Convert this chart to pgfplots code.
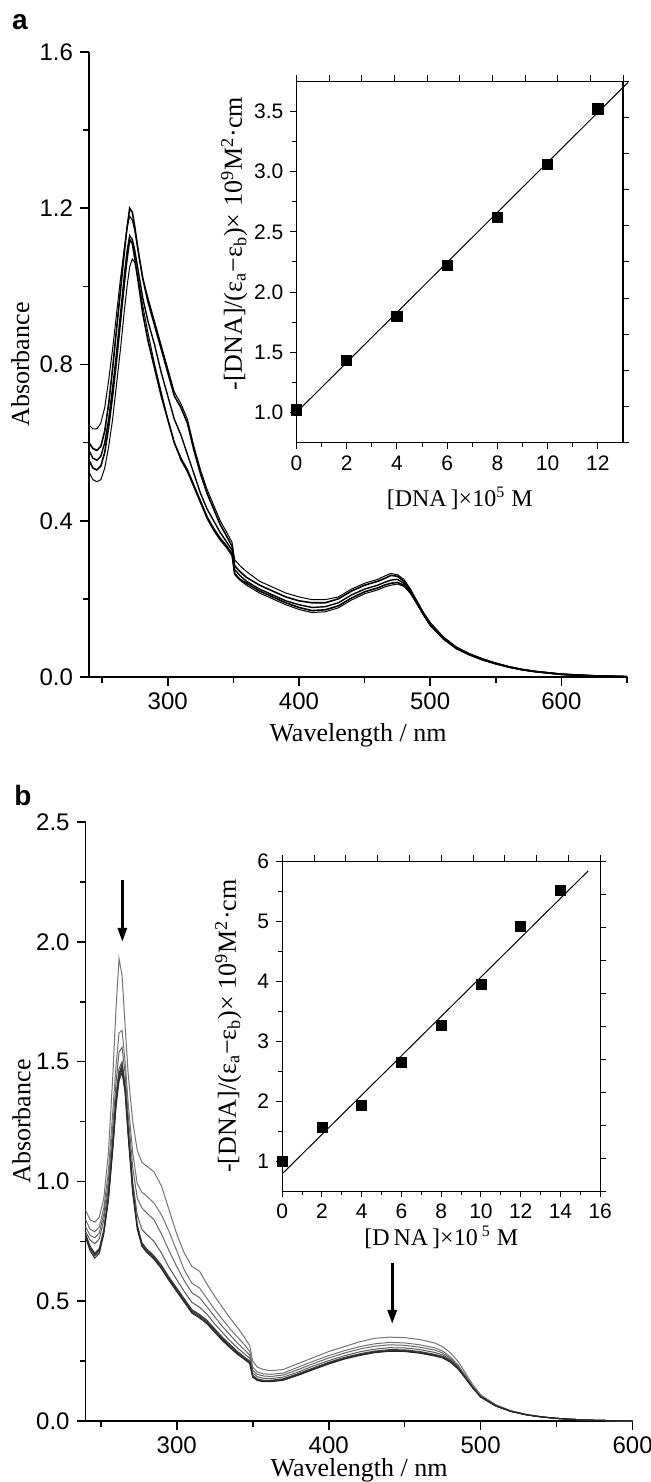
\documentclass[border=0pt]{standalone}
\usepackage{fontspec}
\setmainfont{Liberation Serif}
\newfontfamily\arial{Liberation Sans}
\usepackage{pgfplots}
\usepackage{pgfplotstable}
\pgfplotsset{compat=1.18}
\usetikzlibrary{arrows.meta}

\pgfplotstableread{
x c1 c2 c3 c4 c5
240 0.600 0.645 0.580 0.555 0.525
243 0.585 0.635 0.560 0.535 0.505
246 0.580 0.635 0.555 0.530 0.500
249 0.590 0.650 0.565 0.540 0.505
252 0.630 0.690 0.600 0.575 0.535
255 0.700 0.760 0.660 0.640 0.590
258 0.790 0.840 0.740 0.720 0.660
261 0.890 0.930 0.830 0.810 0.750
264 0.990 1.020 0.930 0.910 0.840
267 1.090 1.100 1.030 1.010 0.940
269 1.150 1.150 1.090 1.070 1.000
271 1.200 1.180 1.130 1.120 1.050
273 1.190 1.170 1.120 1.110 1.070
275 1.150 1.140 1.090 1.070 1.060
278 1.080 1.080 1.030 1.000 1.010
281 1.020 1.020 0.970 0.930 0.950
285 0.960 0.970 0.910 0.860 0.880
290 0.900 0.910 0.850 0.790 0.800
295 0.840 0.850 0.780 0.720 0.730
300 0.780 0.790 0.720 0.660 0.660
305 0.720 0.730 0.660 0.600 0.600
310 0.690 0.700 0.620 0.560 0.555
315 0.650 0.660 0.570 0.530 0.525
320 0.580 0.590 0.520 0.490 0.485
325 0.520 0.530 0.470 0.450 0.445
330 0.470 0.480 0.430 0.410 0.405
335 0.430 0.440 0.400 0.380 0.375
340 0.390 0.400 0.370 0.355 0.350
345 0.360 0.370 0.345 0.335 0.330
349 0.335 0.345 0.325 0.315 0.310
351 0.285 0.300 0.275 0.265 0.262
355 0.270 0.285 0.260 0.250 0.248
360 0.255 0.270 0.245 0.240 0.235
370 0.235 0.245 0.225 0.220 0.215
380 0.220 0.230 0.210 0.205 0.200
390 0.205 0.215 0.195 0.190 0.185
400 0.195 0.205 0.185 0.178 0.173
410 0.190 0.198 0.178 0.170 0.165
420 0.190 0.198 0.180 0.172 0.167
430 0.200 0.205 0.190 0.182 0.177
440 0.220 0.225 0.210 0.202 0.197
450 0.235 0.240 0.225 0.218 0.213
460 0.245 0.250 0.235 0.228 0.223
465 0.252 0.258 0.242 0.235 0.230
470 0.260 0.265 0.248 0.240 0.235
475 0.258 0.262 0.250 0.242 0.238
480 0.245 0.250 0.240 0.235 0.232
485 0.220 0.225 0.220 0.215 0.214
490 0.190 0.195 0.190 0.188 0.187
495 0.160 0.165 0.160 0.160 0.158
500 0.135 0.140 0.135 0.133 0.132
510 0.100 0.103 0.100 0.098 0.097
520 0.075 0.077 0.075 0.073 0.072
530 0.058 0.060 0.058 0.057 0.056
540 0.045 0.047 0.045 0.044 0.043
550 0.035 0.036 0.035 0.034 0.033
560 0.026 0.027 0.026 0.025 0.025
570 0.019 0.020 0.019 0.019 0.018
580 0.014 0.015 0.014 0.014 0.013
600 0.007 0.008 0.007 0.007 0.006
625 0.003 0.003 0.003 0.003 0.002
650 0.001 0.001 0.001 0.001 0.001
}\tabA

\pgfplotstableread{
x b1 b2 b3 b4 b5 b6 b7 b8
240 0.88 0.84 0.81 0.79 0.78 0.775 0.77 0.765
243 0.84 0.80 0.775 0.755 0.73 0.725 0.72 0.71
246 0.83 0.79 0.765 0.74 0.70 0.695 0.69 0.68
249 0.85 0.81 0.785 0.76 0.72 0.715 0.71 0.70
252 0.93 0.89 0.865 0.84 0.80 0.795 0.79 0.78
255 1.12 1.04 1.00 0.97 0.94 0.935 0.93 0.92
258 1.45 1.30 1.24 1.19 1.17 1.16 1.15 1.14
260 1.72 1.48 1.41 1.36 1.34 1.33 1.32 1.31
262 1.93 1.62 1.54 1.47 1.45 1.44 1.43 1.42
264 1.86 1.63 1.56 1.50 1.49 1.48 1.47 1.455
266 1.65 1.50 1.45 1.40 1.40 1.39 1.38 1.37
268 1.45 1.33 1.28 1.23 1.22 1.21 1.20 1.19
271 1.25 1.12 1.06 1.00 0.98 0.97 0.96 0.95
274 1.13 0.99 0.93 0.86 0.82 0.815 0.81 0.80
277 1.08 0.955 0.89 0.80 0.745 0.74 0.735 0.73
280 1.065 0.94 0.87 0.78 0.72 0.715 0.71 0.705
285 1.04 0.91 0.84 0.75 0.69 0.685 0.68 0.675
290 0.98 0.86 0.78 0.70 0.65 0.645 0.64 0.635
295 0.88 0.79 0.71 0.64 0.60 0.595 0.59 0.585
300 0.78 0.71 0.645 0.59 0.555 0.55 0.545 0.54
305 0.70 0.63 0.585 0.54 0.51 0.505 0.50 0.495
310 0.645 0.575 0.535 0.495 0.465 0.46 0.455 0.45
315 0.625 0.555 0.515 0.475 0.445 0.44 0.435 0.43
320 0.57 0.51 0.475 0.445 0.42 0.415 0.41 0.405
325 0.52 0.465 0.435 0.405 0.385 0.38 0.375 0.37
330 0.475 0.425 0.395 0.37 0.35 0.345 0.34 0.336
335 0.43 0.385 0.36 0.335 0.32 0.315 0.31 0.306
340 0.39 0.35 0.325 0.305 0.29 0.286 0.282 0.278
345 0.345 0.315 0.295 0.278 0.265 0.261 0.258 0.255
348 0.315 0.29 0.275 0.262 0.25 0.246 0.243 0.24
350 0.25 0.225 0.212 0.20 0.19 0.187 0.185 0.183
353 0.225 0.205 0.195 0.185 0.176 0.173 0.171 0.169
357 0.215 0.197 0.188 0.178 0.17 0.168 0.166 0.164
362 0.21 0.195 0.186 0.177 0.17 0.168 0.166 0.164
370 0.215 0.20 0.192 0.183 0.176 0.174 0.172 0.17
380 0.24 0.225 0.215 0.205 0.198 0.195 0.193 0.191
390 0.265 0.25 0.24 0.23 0.222 0.219 0.217 0.215
400 0.29 0.273 0.263 0.252 0.245 0.242 0.24 0.238
410 0.31 0.293 0.283 0.272 0.265 0.262 0.26 0.258
420 0.33 0.31 0.30 0.288 0.28 0.277 0.275 0.273
430 0.345 0.322 0.312 0.30 0.292 0.289 0.287 0.285
440 0.35 0.328 0.318 0.306 0.298 0.295 0.293 0.291
450 0.348 0.326 0.316 0.305 0.297 0.294 0.292 0.29
460 0.34 0.318 0.308 0.298 0.29 0.287 0.285 0.283
470 0.325 0.305 0.296 0.286 0.278 0.275 0.273 0.271
475 0.31 0.292 0.284 0.276 0.27 0.267 0.265 0.263
480 0.285 0.268 0.262 0.256 0.252 0.25 0.248 0.246
485 0.25 0.235 0.23 0.226 0.223 0.221 0.22 0.218
490 0.20 0.19 0.187 0.184 0.182 0.18 0.179 0.178
495 0.15 0.143 0.141 0.14 0.139 0.138 0.137 0.136
500 0.11 0.105 0.104 0.103 0.102 0.101 0.10 0.10
510 0.068 0.066 0.065 0.064 0.064 0.063 0.063 0.062
520 0.043 0.042 0.041 0.041 0.04 0.04 0.04 0.04
530 0.028 0.027 0.027 0.026 0.026 0.026 0.026 0.026
540 0.018 0.018 0.017 0.017 0.017 0.017 0.017 0.017
550 0.011 0.011 0.011 0.011 0.011 0.011 0.011 0.011
560 0.007 0.007 0.007 0.007 0.007 0.007 0.007 0.007
575 0.003 0.003 0.003 0.003 0.003 0.003 0.003 0.003
600 0.0 0.0 0.0 0.0 0.0 0.0 0.0 0.0
}\tabB

\pgfplotstableread{
x y
0 1.02
2 1.43
4 1.80
6 2.22
8 2.62
10 3.06
12 3.52
}\insA

\pgfplotstableread{
x y
0 1.00
2 1.57
4 1.93
6 2.65
8 3.26
10 3.94
12 4.91
14 5.51
}\insB

\pgfplotsset{
  mainstyle/.style={
    scale only axis, axis lines=left, axis line style={-, line width=0.9pt},
    tick align=outside, major tick length=4.5pt, minor tick length=3pt,
    every tick/.style={line width=0.8pt, black},
    tick label style={font=\fontsize{12}{13}\selectfont\arial},
    /pgf/number format/assume math mode=true,
    label style={font=\fontsize{13}{14}\selectfont},
    yticklabel style={/pgf/number format/.cd, fixed, fixed zerofill, precision=1},
    xticklabel style={/pgf/number format/.cd, fixed, precision=0},
    xlabel style={at={(axis description cs:0.5,0)}, anchor=center},
  },
  insetstyle/.style={
    scale only axis, axis line style={line width=0.6pt},
    tick align=outside, major tick length=3pt, minor tick length=2pt,
    every tick/.style={line width=0.5pt, black},
    tick label style={font=\fontsize{10.5}{11}\selectfont\arial},
    /pgf/number format/assume math mode=true,
    xlabel style={font=\fontsize{12}{13}\selectfont},
    ylabel style={font=\fontsize{13}{14}\selectfont},
    xtick pos=left, ytick pos=left, clip=false,
    xlabel style={at={(axis description cs:0.5,0)}, anchor=center},
  },
  overlaystyle/.style={
    scale only axis, axis line style={draw=none},
    tick align=outside, major tick length=3pt,
    every tick/.style={line width=0.5pt, black},
    xtick pos=right, ytick pos=right, xticklabels={}, yticklabels={},
  },
}

\begin{document}
\begin{tikzpicture}
\useasboundingbox (0,0) rectangle (325.5pt,-741pt);

% ---------------- panel a ----------------
\node[font=\fontsize{14}{14}\selectfont\arial\bfseries] at (10pt,-11pt) {a};
\begin{axis}[mainstyle, at={(44.5pt,-338.5pt)}, anchor=south west,
  width=269pt, height=312.5pt,
  xmin=240, xmax=650, ymin=0, ymax=1.6,
  xtick={300,400,500,600}, minor xtick={250,350,450,550,650},
  ytick={0,0.4,0.8,1.2,1.6}, minor ytick={0.2,0.6,1.0,1.4},
  xlabel={Wavelength / nm}, ylabel={Absorbance},
  xlabel style={yshift=-29pt},
  ylabel style={at={(axis description cs:-0.128,0.5)}, anchor=center}]
\addplot[black, line width=0.8pt] table[x=x, y=c1] {\tabA};
\addplot[black, line width=0.5pt] table[x=x, y=c2] {\tabA};
\addplot[black, line width=0.7pt] table[x=x, y=c3] {\tabA};
\addplot[black, line width=0.8pt] table[x=x, y=c4] {\tabA};
\addplot[black, line width=0.5pt] table[x=x, y=c5] {\tabA};
\end{axis}

\begin{axis}[insetstyle, at={(148.2pt,-221.3pt)}, anchor=south west,
  width=163.3pt, height=180.7pt,
  xmin=0, xmax=13, ymin=0.75, ymax=3.75,
  xtick={0,2,4,6,8,10,12}, minor xtick={1,3,5,7,9,11},
  ytick={1.0,1.5,2.0,2.5,3.0,3.5}, minor ytick={1.25,1.75,2.25,2.75,3.25},
  yticklabel style={/pgf/number format/.cd, fixed, fixed zerofill, precision=1},
  xlabel={[DNA\,]×10\textsuperscript{5} M},
  ylabel={-[DNA]/(ε\textsubscript{a}−ε\textsubscript{b})× 10\textsuperscript{9}M\textsuperscript{2}·cm},
  xlabel style={yshift=-28pt},
  ylabel style={at={(axis description cs:-0.19,0.55)}, anchor=center}]
\addplot[black, line width=0.5pt] coordinates {(0,1.0) (13.2,3.74)};
\addplot[only marks, mark=square*, mark size=2.6pt, black] table[x=x, y=y] {\insA};
\end{axis}
\begin{axis}[overlaystyle, at={(148.2pt,-221.3pt)}, anchor=south west,
  width=163.3pt, height=180.7pt,
  xmin=0, xmax=13, ymin=0.75, ymax=3.75,
  xtick={0,1.3,2.6,3.9,5.2,6.5,7.8,9.1,10.4,11.7,13},
  ytick={0.75,1.05,1.35,1.65,1.95,2.25,2.55,2.85,3.15,3.45,3.75}]
\addplot[draw=none] coordinates {(0,1)};
\end{axis}

% ---------------- panel b ----------------
\node[font=\fontsize{14}{14}\selectfont\arial\bfseries] at (11.5pt,-397.5pt) {b};
\begin{axis}[mainstyle, at={(42.8pt,-710.5pt)}, anchor=south west,
  width=273.5pt, height=299.5pt,
  xmin=240, xmax=600, ymin=0, ymax=2.5,
  xtick={300,400,500,600}, minor xtick={250,350,450,550},
  ytick={0,0.5,1.0,1.5,2.0,2.5}, minor ytick={0.25,0.75,1.25,1.75,2.25},
  xlabel={Wavelength / nm}, ylabel={Absorbance},
  xlabel style={yshift=-24.5pt},
  ylabel style={at={(axis description cs:-0.117,0.5)}, anchor=center}, clip=false]
\addplot[black!55, line width=0.5pt] table[x=x, y=b1] {\tabB};
\addplot[black!55, line width=0.5pt] table[x=x, y=b2] {\tabB};
\addplot[black!60, line width=0.5pt] table[x=x, y=b3] {\tabB};
\addplot[black!65, line width=0.5pt] table[x=x, y=b4] {\tabB};
\addplot[black!75, line width=0.5pt] table[x=x, y=b5] {\tabB};
\addplot[black!80, line width=0.5pt] table[x=x, y=b6] {\tabB};
\addplot[black!80, line width=0.5pt] table[x=x, y=b7] {\tabB};
\addplot[black!85, line width=0.5pt] table[x=x, y=b8] {\tabB};
\draw[-{Triangle[length=7pt,width=4.5pt]}, line width=1.5pt] (axis cs:264.2,2.26) -- (axis cs:264.2,2.0);
\draw[-{Triangle[length=7pt,width=4.5pt]}, line width=1.5pt] (axis cs:441.8,0.66) -- (axis cs:441.8,0.405);
\end{axis}

\begin{axis}[insetstyle, at={(141.1pt,-595.6pt)}, anchor=south west,
  width=159pt, height=165pt,
  xmin=0, xmax=16, ymin=0.5, ymax=6,
  xtick={0,2,4,6,8,10,12,14,16}, minor xtick={1,3,5,7,9,11,13,15},
  ytick={1,2,3,4,5,6}, minor ytick={1.5,2.5,3.5,4.5,5.5},
  xlabel={[D\,NA\,]×10\,\textsuperscript{5} M},
  ylabel={-[DNA]/(ε\textsubscript{a}−ε\textsubscript{b})× 10\textsuperscript{9}M\textsuperscript{2}·cm},
  xlabel style={yshift=-23pt},
  ylabel style={at={(axis description cs:-0.17,0.5)}, anchor=center}]
\addplot[black, line width=0.5pt] coordinates {(0,0.79) (15.4,5.84)};
\addplot[only marks, mark=square*, mark size=2.5pt, black] table[x=x, y=y] {\insB};
\end{axis}
\begin{axis}[overlaystyle, at={(141.1pt,-595.6pt)}, anchor=south west,
  width=159pt, height=165pt,
  xmin=0, xmax=16, ymin=0.5, ymax=6,
  xtick={0,1.6,3.2,4.8,6.4,8,9.6,11.2,12.8,14.4,16},
  ytick={0.5,1.05,1.6,2.15,2.7,3.25,3.8,4.35,4.9,5.45,6}]
\addplot[draw=none] coordinates {(0,1)};
\end{axis}
\end{tikzpicture}
\end{document}
